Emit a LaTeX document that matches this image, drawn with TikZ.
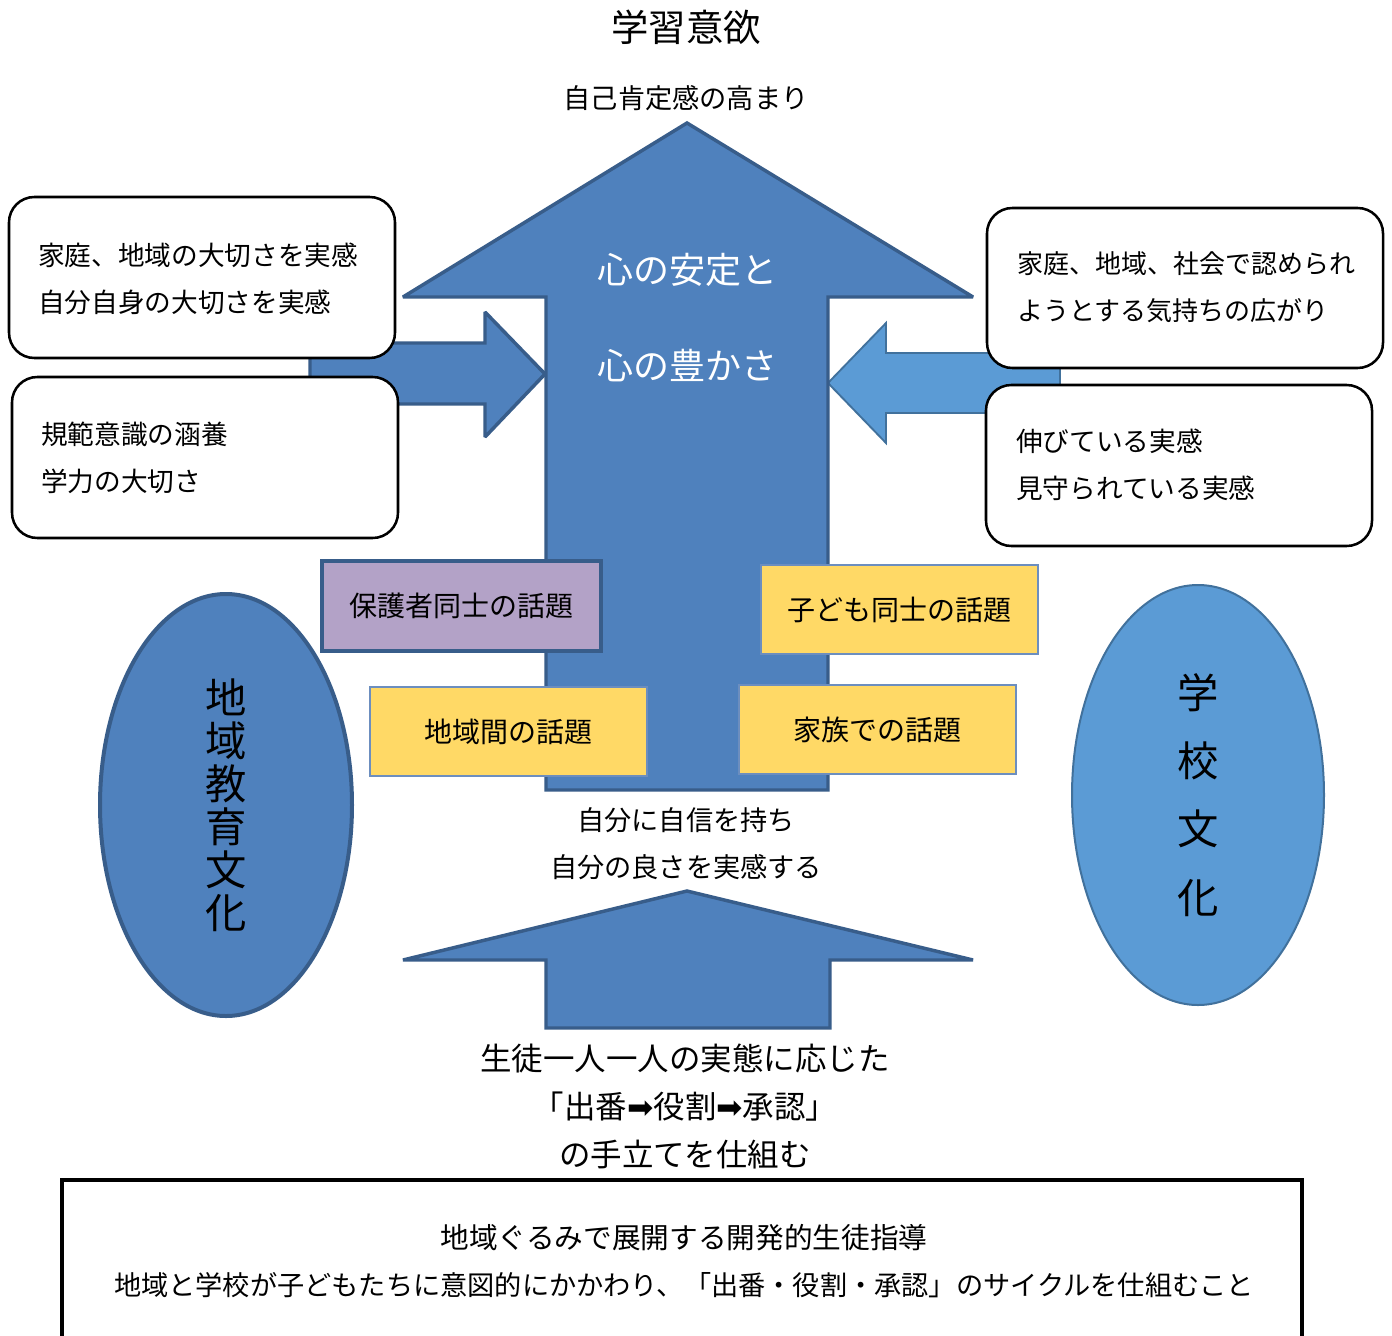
\documentclass[tikz,border=0pt]{standalone}
\usepackage{fontspec}
\setmainfont{Noto Sans CJK JP}
\newfontfamily\dvs{DejaVu Sans}
\usetikzlibrary{shapes.geometric}
\definecolor{arrowblue}{HTML}{4F81BD}
\definecolor{arrowedge}{HTML}{385D8A}
\definecolor{lightblue}{HTML}{5B9BD5}
\definecolor{lightedge}{HTML}{41719C}
\definecolor{purplebox}{HTML}{B3A2C7}
\definecolor{yellowbox}{HTML}{FFD966}
\definecolor{yellowedge}{HTML}{6C8EBF}
\tikzset{
  bigarrow/.style={fill=arrowblue, draw=arrowedge, line width=2.6pt, line join=miter, miter limit=2},
  lightarrow/.style={fill=lightblue, draw=lightedge, line width=1.4pt, line join=miter},
  rbox/.style={draw=black, line width=1.9pt, fill=white, rounded corners=19pt, inner sep=0pt, minimum width=289.5pt, minimum height=120.75pt},
  boxtext/.style={inner sep=0pt, anchor=west, align=left, font=\fontsize{20}{35.25}\selectfont},
  topic/.style={draw=yellowedge, line width=1.5pt, fill=yellowbox, inner sep=0pt, minimum width=207.75pt, minimum height=66.75pt, font=\fontsize{21}{25}\selectfont},
  plain/.style={inner sep=0pt, align=center},
}
\begin{document}
\begin{tikzpicture}[x=0.75pt,y=-0.75pt]
\clip (0,0) rectangle (1392,1335);
\fill[white] (0,0) rectangle (1392,1335);

% titles
\node[plain, font=\fontsize{28}{32}\selectfont] (title) at (686,27) {学習意欲};
\node[plain, font=\fontsize{20.4}{24}\selectfont] (top) at (686,98) {自己肯定感の高まり};

% side arrows (behind boxes)
\draw[bigarrow] (310,343) -- (485,343) -- (485,312) -- (545,374) -- (485,437) -- (485,404) -- (310,404) -- cycle;
\draw[lightarrow] (1060,353) -- (886,353) -- (886,323) -- (828,383) -- (886,443) -- (886,413) -- (1060,413) -- cycle;

% big arrow
\draw[bigarrow] (687,123) -- (973,297) -- (828,297) -- (828,790) -- (546,790) -- (546,297) -- (403,297) -- cycle;
\node[plain, text=white, font=\fontsize{27}{32}\selectfont] (c1) at (687,270) {心の安定と};
\node[plain, text=white, font=\fontsize{27}{32}\selectfont] (c2) at (687,366) {心の豊かさ};

% rounded boxes
\node[rbox] (b1) at (202,277.5) {};
\node[boxtext] (t1) at (38,278.5) {家庭、地域の大切さを実感\\自分自身の大切さを実感};
\node[rbox] (b2) at (205,457.5) {};
\node[boxtext] (t2) at (41,458) {規範意識の涵養\\学力の大切さ};
\node[rbox, minimum width=297pt, minimum height=120pt] (b3) at (1185,288) {};
\node[boxtext, font=\fontsize{19.5}{35.25}\selectfont] (t3) at (1017,287.5) {家庭、地域、社会で認められ\\ようとする気持ちの広がり};
\node[rbox] (b4) at (1179,465.5) {};
\node[boxtext] (t4) at (1016,465) {伸びている実感\\見守られている実感};

% topic boxes
\node[topic, fill=purplebox, draw=arrowedge, line width=3pt, minimum width=209.25pt, minimum height=67.5pt] (p1) at (461.5,606) {保護者同士の話題};
\node[topic] (y1) at (899.5,609.5) {子ども同士の話題};
\node[topic] (y2) at (508.5,731.5) {地域間の話題};
\node[topic] (y3) at (877,729.5) {家族での話題};

% ellipses
\node[ellipse, fill=arrowblue, draw=arrowedge, line width=3pt, minimum width=189pt, minimum height=316.5pt, inner sep=0pt, align=center, font=\fontsize{31}{32.3}\selectfont] (e1) at (226,805) {地\\域\\教\\育\\文\\化};
\node[ellipse, fill=lightblue, draw=lightedge, line width=1.5pt, minimum width=189pt, minimum height=315pt, inner sep=0pt, align=center, font=\fontsize{31}{51.2}\selectfont] (e2) at (1198,795) {学\\校\\文\\化};

% middle texts
\node[plain, font=\fontsize{20.4}{24}\selectfont] (m1) at (686,820) {自分に自信を持ち};
\node[plain, font=\fontsize{20.4}{24}\selectfont] (m2) at (686,867) {自分の良さを実感する};

% bottom arrow
\draw[bigarrow] (687,891) -- (973,960) -- (830,960) -- (830,1028) -- (546,1028) -- (546,960) -- (403,960) -- cycle;

\node[plain, font=\fontsize{23.6}{28}\selectfont] (s1) at (685,1058) {生徒一人一人の実態に応じた};
\node[plain, font=\fontsize{23.6}{28}\selectfont] (s2) at (685,1107) {「出番{\dvs ➡}役割{\dvs ➡}承認」};
\node[plain, font=\fontsize{23.6}{28}\selectfont] (s3) at (685,1155) {の手立てを仕組む};

% bottom box
\node[draw=black, line width=2.3pt, fill=white, minimum width=930pt, minimum height=135pt, inner sep=0pt] (bb) at (682,1270) {};
\node[plain, font=\fontsize{21.5}{26}\selectfont] (bt1) at (684,1238) {地域ぐるみで展開する開発的生徒指導};
\node[plain, font=\fontsize{20.4}{26}\selectfont] (bt2) at (684,1285) {地域と学校が子どもたちに意図的にかかわり、「出番・役割・承認」のサイクルを仕組むこと};
\end{tikzpicture}
\end{document}
